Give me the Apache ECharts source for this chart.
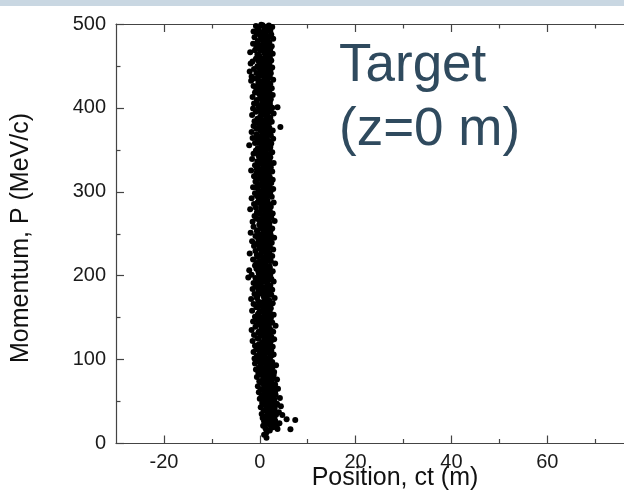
<!DOCTYPE html>
<html>
<head>
<meta charset="utf-8">
<script src="https://cdn.jsdelivr.net/npm/echarts@6/dist/echarts.min.js"></script>
<style>
html,body{margin:0;padding:0;background:#fff;}
#chart{width:624px;height:498px;}
</style>
</head>
<body>
<div id="chart"></div>
<script>
// ---- data ----
const xMajorTicks = [-20, 0, 20, 40, 60];
const xMinorTicks = [-10, 10, 30, 50, 70];
const yMajorTicks = [0, 100, 200, 300, 400, 500];
const yMinorTicks = [50, 150, 250, 350, 450];
const xTitle = 'Position, ct (m)';
const yTitle = 'Momentum, P (MeV/c)';
const annotation = ['Target', '(z=0 m)'];

// [position ct (m), momentum P (MeV/c)] - outer part of the particle cloud
const scatterPoints = [
[0.3,499.2],[1.9,498.1],[-0.8,497.5],[2.6,496.3],[1.0,495.4],[-0.2,494.0],[1.5,493.1],[2.2,491.7],[-1.3,491.0],[0.7,490.2],
[1.2,489.1],[-0.6,488.4],[2.4,487.6],[0.1,486.2],[1.7,485.5],[-1.1,484.3],[0.8,483.6],[2.8,482.4],[0.4,481.5],[1.4,480.3],
[-0.4,479.6],[2.0,478.4],[0.9,477.2],[-1.4,476.5],[1.6,475.3],[0.2,474.1],[2.5,473.4],[-0.7,472.2],[1.1,471.0],[2.2,470.4],
[0.5,469.3],[-1.0,468.7],[1.8,467.5],[-2.0,466.3],[0.9,465.6],[2.7,464.4],[-0.3,463.2],[1.3,462.5],[0.0,461.3],[2.1,460.2],
[1.6,459.4],[-0.8,458.5],[0.7,457.3],[2.4,456.6],[-1.5,455.4],[1.0,454.2],[-1.9,453.0],[2.0,452.5],[0.3,451.3],[1.5,450.1],
[-0.5,449.5],[2.6,448.3],[0.8,447.6],[-1.2,446.4],[1.9,445.2],[0.1,444.5],[-2.1,443.3],[1.2,442.4],[2.3,441.2],[-0.2,440.3],
[1.4,439.4],[0.4,438.2],[-1.7,437.5],[2.1,436.3],[-0.9,435.1],[1.0,434.4],[2.8,433.6],[-1.8,432.5],[0.6,431.3],[1.7,430.2],
[-0.3,429.5],[2.2,428.4],[0.9,427.3],[-1.3,426.1],[1.5,425.4],[0.0,424.2],[2.5,423.3],[-0.7,422.1],[1.2,421.4],[0.5,420.2],
[2.0,419.3],[-1.0,418.5],[1.3,417.4],[-0.1,416.2],[2.7,415.5],[0.7,414.3],[-1.5,413.1],[1.8,412.4],[0.3,411.2],[2.3,410.3],
[-0.6,409.4],[1.1,408.2],[0.5,406.3],[-1.2,405.1],[2.1,404.4],[1.6,403.3],[-0.3,402.2],[0.9,401.4],[2.6,400.3],[3.7,400.8],
[-1.4,399.2],[1.4,398.3],[0.2,397.5],[2.3,396.2],[-0.8,395.4],[1.0,394.1],[2.9,393.3],[0.6,392.2],[-1.6,391.4],[1.7,390.3],
[0.1,389.5],[2.2,388.4],[-0.5,387.2],[1.3,386.1],[0.8,385.3],[-1.1,384.2],[2.5,383.4],[0.4,382.1],[1.9,381.3],[-0.2,380.4],
[4.3,377.2],[1.5,379.3],[-1.3,378.5],[0.7,377.9],[2.0,376.2],[-0.4,375.4],[1.1,374.1],[2.7,373.2],[0.2,372.5],[-1.7,371.3],[1.6,370.4],
[0.9,369.2],[-0.7,368.4],[2.3,367.3],[0.0,366.1],[1.4,365.5],[-1.5,364.2],[2.8,363.3],[0.6,362.4],[-0.1,361.2],[1.9,360.3],
[1.1,359.4],[-1.0,358.2],[2.4,357.5],[0.4,356.3],[-2.2,355.4],[1.7,354.2],[0.8,353.3],[-0.4,352.1],[2.1,351.4],[1.3,350.2],
[-0.8,349.3],[0.3,348.4],[2.6,347.2],[1.0,346.5],[-1.3,345.3],[1.8,344.1],[0.5,343.4],[-0.2,342.3],[2.2,341.2],[1.4,340.4],
[-1.6,339.2],[0.7,338.4],[2.0,337.5],[-0.5,336.3],[1.2,335.2],[2.9,334.4],[0.1,333.3],[1.6,332.1],[-1.0,331.5],[0.9,330.3],
[2.3,329.4],[-0.3,328.2],[1.5,327.3],[0.4,326.5],[-1.8,325.4],[2.6,324.2],[1.0,323.3],[-0.7,322.1],[1.9,321.4],[0.2,320.3],
[1.3,319.2],[-1.2,318.4],[2.1,317.3],[0.6,316.1],[-0.1,315.5],[2.7,314.3],[1.7,313.2],[-0.9,312.4],[0.9,311.2],[2.4,310.4],
[-0.5,309.3],[1.1,308.2],[0.2,307.4],[2.0,306.5],[-1.4,305.3],[1.6,304.2],[2.8,303.4],[0.7,302.3],[-0.2,301.2],[1.4,300.4],
[2.2,299.5],[-1.0,298.3],[0.5,297.2],[1.8,296.4],[-0.6,295.3],[2.5,294.1],[0.9,293.5],[-1.7,292.2],[1.2,291.4],[0.1,290.3],
[1.6,289.2],[-0.3,288.4],[2.9,287.3],[0.8,286.2],[-1.2,285.4],[1.9,284.2],[0.3,283.5],[2.3,282.3],[-0.8,281.1],[1.1,280.4],
[-2.0,279.3],[0.6,278.5],[2.1,277.2],[1.3,276.4],[-0.4,275.3],[2.7,274.2],[0.0,273.4],[1.7,272.1],[-1.1,271.3],[0.9,270.2],
[2.4,269.4],[-0.7,268.2],[1.4,267.3],[0.2,266.5],[3.1,265.3],[-1.5,264.2],[1.0,263.4],[2.0,262.3],[-0.1,261.1],[0.7,260.4],
[1.8,259.2],[-1.3,258.4],[0.4,257.3],[2.6,256.2],[1.1,255.5],[-0.5,254.3],[2.2,253.1],[0.8,252.4],[-1.9,251.3],[1.5,250.2],
[0.1,249.4],[2.3,248.3],[-0.9,247.2],[1.2,246.5],[3.0,245.3],[0.6,244.2],[-0.3,243.4],[1.9,242.3],[-1.6,241.2],[0.9,240.4],
[2.5,239.3],[-0.6,238.2],[1.6,237.4],[0.3,236.5],[-1.2,235.3],[2.1,234.2],[0.9,233.1],[-0.1,232.4],[2.8,231.3],[1.3,230.2],
[-0.9,229.4],[0.7,228.3],[2.0,227.2],[-2.1,226.5],[1.4,225.3],[0.1,224.1],[2.6,223.4],[-0.5,222.3],[1.0,221.2],[1.8,220.4],
[-1.4,219.3],[0.5,218.2],[2.3,217.5],[1.2,216.3],[-0.3,215.2],[3.2,214.4],[0.8,213.3],[-1.0,212.1],[1.7,211.4],[0.2,210.3],
[2.1,209.4],[-0.7,208.2],[1.0,207.3],[-2.2,206.5],[2.7,205.3],[0.4,204.2],[1.5,203.4],[-0.2,202.3],[-1.7,201.2],[0.9,200.4],
[-2.4,198.0],[1.9,199.3],[0.3,198.5],[-0.9,197.2],[2.4,196.4],[1.2,195.3],[-0.4,194.2],[2.9,193.1],[0.6,192.4],[-1.3,191.3],[1.6,190.2],
[0.0,189.4],[2.2,188.3],[-0.8,187.2],[1.3,186.5],[0.7,185.3],[-1.5,184.2],[2.6,183.4],[1.0,182.3],[-0.2,181.1],[1.9,180.4],
[0.4,179.3],[-1.1,178.2],[2.4,177.4],[1.5,176.5],[-0.5,175.3],[0.9,174.2],[3.1,173.4],[-1.8,172.3],[1.2,171.2],[2.0,170.4],
[-0.3,169.2],[0.6,168.4],[2.7,167.3],[-1.3,166.2],[1.8,165.5],[0.2,164.3],[1.1,163.2],[-0.7,162.4],[2.3,161.3],[0.8,160.2],
[1.4,159.4],[-1.6,158.3],[0.0,157.2],[2.1,156.5],[0.9,155.3],[-0.4,154.1],[2.9,153.4],[1.6,152.3],[-1.0,151.2],[0.5,150.4],
[2.3,149.3],[-0.6,148.2],[1.2,147.4],[0.3,146.5],[-1.4,145.3],[2.6,144.2],[1.7,143.4],[-0.1,142.3],[0.8,141.1],[3.3,140.4],
[-0.9,139.2],[1.0,138.4],[2.0,137.3],[0.4,136.2],[-1.7,135.4],[1.5,134.3],[2.8,133.2],[-0.3,132.4],[0.7,131.3],[1.9,130.2],
[-1.2,129.4],[0.2,128.3],[2.4,127.2],[1.3,126.5],[-0.5,125.3],[3.0,124.2],[0.9,123.4],[-1.5,122.3],[1.7,121.2],[0.5,120.4],
[2.1,119.3],[-0.2,118.2],[1.1,117.4],[-1.0,116.5],[2.7,115.3],[0.6,114.2],[1.8,113.4],[-0.7,112.3],[0.3,111.1],[2.4,110.4],
[-1.3,109.2],[1.4,108.4],[0.0,107.3],[2.9,106.2],[0.8,105.5],[-0.6,104.3],[2.2,103.2],[1.2,102.4],[-1.1,101.3],[0.5,100.2],
[1.9,99.4],[-0.4,98.3],[2.6,97.2],[0.9,96.5],[-1.0,95.3],[1.5,94.2],[3.4,93.4],[0.2,92.3],[2.1,91.2],[-0.2,90.4],
[1.1,89.3],[-0.8,88.2],[2.4,87.4],[0.6,86.5],[3.0,85.3],[-0.3,84.2],[1.7,83.4],[0.1,82.3],[2.7,81.1],[1.3,80.4],
[-0.6,79.2],[2.0,78.4],[0.7,77.3],[3.6,76.2],[1.4,75.5],[-0.1,74.3],[2.5,73.2],[0.4,72.4],[1.8,71.3],[3.2,70.2],
[0.9,69.4],[-0.4,68.3],[2.2,67.2],[1.2,66.5],[3.8,65.3],[0.2,64.2],[2.8,63.4],[1.6,62.3],[-0.2,61.1],[2.0,60.4],
[1.0,59.3],[3.3,58.2],[0.4,57.4],[2.5,56.5],[1.5,55.3],[4.2,54.2],[0.0,53.4],[2.0,52.3],[3.0,51.2],[0.8,50.4],
[1.9,49.2],[0.5,48.4],[3.6,47.3],[2.6,46.2],[1.2,45.5],[4.4,44.3],[0.2,43.2],[2.2,42.4],[3.1,41.3],[1.5,40.2],
[0.8,39.4],[2.9,38.3],[4.0,37.2],[1.7,36.5],[0.4,35.3],[3.4,34.2],[4.7,34.0],[2.3,33.4],[1.1,32.3],[3.0,31.2],[0.6,30.4],
[2.0,29.3],[5.6,29.0],[1.3,28.2],[7.4,28.0],[3.2,27.4],[0.9,26.5],[2.5,25.3],[4.1,24.2],[1.6,23.4],[3.6,22.3],[0.7,21.2],
[2.8,19.4],[6.4,17.0],[1.2,18.0],[3.7,17.3],[2.1,15.5],[1.4,13.0],[0.9,10.5],[1.4,7.0]
];

// [position ct (m), momentum P (MeV/c)] - dense core of the particle cloud
const corePoints = [
[0.6,498.6],[1.6,496.8],[-0.4,495.0],[2.1,493.2],[0.9,491.4],
[-0.2,488.7],[1.1,486.9],[2.0,485.1],[0.3,483.3],[1.5,481.5],
[1.3,478.8],[-0.6,477.0],[0.5,475.2],[1.9,473.4],[0.8,471.6],
[0.1,468.7],[2.2,466.9],[1.2,465.1],[-0.5,463.3],[1.7,461.5],
[0.5,458.8],[1.9,457.0],[-0.2,455.2],[1.3,453.4],[0.6,451.6],
[1.6,448.7],[0.0,446.9],[2.2,445.1],[0.6,443.3],[-0.7,441.5],
[0.9,438.8],[2.0,437.0],[-0.4,435.2],[1.4,433.4],[0.2,431.6],
[1.7,428.7],[0.3,426.9],[-0.6,425.1],[2.0,423.3],[1.0,421.5],
[-0.3,418.8],[0.9,417.0],[2.2,415.2],[1.5,413.4],[0.1,411.6],
[1.4,408.7],[2.1,406.9],[-0.7,405.7],[0.4,403.3],[1.9,401.5],
[0.6,398.8],[-0.3,396.9],[1.8,395.2],[0.3,393.4],[1.2,391.6],
[1.7,388.7],[0.2,386.9],[2.1,385.1],[-0.6,383.3],[1.0,381.5],
[0.4,378.8],[1.2,377.0],[-0.7,375.2],[1.8,373.4],[0.6,371.6],
[2.0,368.7],[0.5,366.9],[1.0,365.1],[-0.5,363.3],[1.6,361.5],
[-0.2,358.8],[1.5,357.0],[0.9,355.2],[2.2,353.4],[0.1,351.6],
[1.2,348.7],[-0.5,346.9],[2.0,345.1],[0.7,343.3],[1.6,341.5],
[0.3,338.8],[1.5,337.0],[-0.2,335.2],[2.1,333.4],[0.8,331.6],
[1.0,328.7],[-0.6,326.9],[2.0,325.1],[0.1,323.3],[1.4,321.5],
[0.3,318.8],[1.9,317.0],[-0.5,315.2],[1.1,313.4],[0.5,311.6],
[1.7,308.7],[0.6,306.9],[-0.7,305.1],[2.2,303.3],[1.0,301.5],
[0.2,298.8],[1.3,297.0],[2.1,295.2],[-0.3,293.4],[0.7,291.6],
[1.1,288.7],[-0.5,286.9],[2.0,285.1],[0.5,283.3],[1.5,281.5],
[0.3,278.8],[1.8,277.0],[-0.6,275.2],[1.0,273.4],[2.2,271.6],
[0.6,268.7],[-0.2,266.9],[1.9,265.1],[0.4,263.3],[1.4,261.5],
[2.0,258.8],[0.2,257.0],[1.2,255.2],[-0.6,253.4],[1.6,251.6],
[0.8,248.7],[-0.4,246.9],[2.1,245.1],[0.3,243.3],[1.3,241.5],
[1.1,238.8],[-0.1,237.0],[2.0,235.2],[0.6,233.4],[1.6,231.6],
[0.4,228.7],[1.5,226.9],[-0.6,225.1],[2.2,223.3],[0.9,221.5],
[1.8,218.8],[0.1,217.0],[-0.7,215.2],[1.1,213.4],[2.0,211.6],
[0.5,208.7],[1.6,206.9],[-0.3,205.1],[1.0,203.3],[2.2,201.5],
[1.3,198.8],[0.0,197.0],[2.0,195.2],[0.7,193.4],[-0.5,191.6],
[1.6,188.7],[0.4,186.9],[2.2,185.1],[-0.3,183.3],[1.2,181.5],
[0.2,178.8],[1.8,177.0],[0.9,175.2],[-0.6,173.4],[1.5,171.6],
[1.2,168.7],[0.3,166.9],[2.1,165.1],[-0.4,163.3],[1.6,161.5],
[0.6,158.8],[1.9,157.0],[-0.2,155.2],[1.3,153.4],[2.3,151.6],
[0.1,148.7],[1.6,146.9],[0.9,145.1],[2.1,143.3],[-0.5,141.5],
[1.4,138.8],[0.4,137.0],[2.3,135.2],[-0.1,133.4],[1.1,131.6],
[0.7,128.7],[1.9,126.9],[-0.3,125.1],[1.5,123.3],[2.3,121.5],
[0.4,118.8],[1.6,117.0],[2.3,115.2],[0.0,113.4],[1.2,111.6],
[1.8,108.7],[0.6,106.9],[2.5,105.1],[-0.2,103.3],[1.5,101.5],
[0.8,98.8],[2.2,97.0],[0.2,95.2],[1.3,93.4],[2.7,91.6],
[1.6,88.7],[0.3,86.9],[2.3,85.1],[1.0,83.3],[2.9,81.5],
[0.8,78.8],[2.6,77.0],[1.2,75.2],[0.2,73.4],[2.1,71.6],
[1.5,68.7],[2.8,66.9],[0.6,65.1],[1.9,63.3],[3.2,61.5],
[1.2,58.8],[2.4,57.0],[0.7,55.2],[3.0,53.4],[1.7,51.6],
[2.3,48.7],[1.0,46.9],[3.2,45.1],[1.8,43.3],[2.7,41.5],
[1.4,38.8],[2.4,37.0],[3.2,35.2],[1.9,33.4],[2.7,31.6],
[1.8,28.7],[2.6,26.9],[1.2,25.1],[3.0,23.3],[2.2,21.5]
];

// ---- chart ----
const FONT = '"Liberation Sans", Arial, sans-serif';
const axisColor = '#444';
const labelColor = '#1a1a1a';
const chart = echarts.init(document.getElementById('chart'), null, {renderer: 'canvas'});

function xAxisDef(position, ticks, len, showLine, showLabel) {
  return {
    type: 'value', position: position, min: -30, max: 76,
    axisLine: {show: showLine, onZero: false, lineStyle: {color: axisColor, width: 1.2}},
    axisTick: {show: true, inside: true, length: len, customValues: ticks, lineStyle: {color: axisColor, width: 1.2}},
    axisLabel: {show: showLabel, customValues: ticks, margin: 9, color: labelColor, fontSize: 20, fontFamily: FONT},
    splitLine: {show: false}
  };
}

const option = {
  backgroundColor: '#ffffff',
  animation: false,
  grid: {left: 116, top: 24, width: 508, height: 419.5, containLabel: false},
  xAxis: [
    xAxisDef('bottom', xMajorTicks, 8, true, true),
    xAxisDef('bottom', xMinorTicks, 4.5, false, false),
    xAxisDef('top', xMajorTicks, 8, true, false),
    xAxisDef('top', xMinorTicks, 4.5, false, false)
  ],
  yAxis: [{
    type: 'value', min: 0, max: 500, interval: 100,
    axisLine: {show: true, onZero: false, lineStyle: {color: axisColor, width: 1.2}},
    axisTick: {show: true, inside: true, length: 8, lineStyle: {color: axisColor, width: 1.2}},
    minorTick: {show: true, splitNumber: 2, length: 4.5, lineStyle: {color: axisColor, width: 1.2}},
    axisLabel: {margin: 10, color: labelColor, fontSize: 20, fontFamily: FONT},
    splitLine: {show: false}
  }],
  series: [{
    type: 'scatter',
    xAxisIndex: 0, yAxisIndex: 0,
    data: scatterPoints.concat(corePoints),
    symbol: 'circle',
    symbolSize: 6,
    itemStyle: {color: '#000', opacity: 1},
    clip: true
  }],
  graphic: [
    {type: 'rect', left: 0, top: 0, shape: {width: 624, height: 6}, style: {fill: '#c9d7e2'}, silent: true},
    {type: 'text', x: 395, y: 478, style: {text: xTitle, font: '25px ' + FONT, fill: '#111', align: 'center', verticalAlign: 'middle'}},
    {type: 'text', x: 21, y: 238, rotation: Math.PI / 2, style: {text: yTitle, font: '25px ' + FONT, fill: '#111', align: 'center', verticalAlign: 'middle'}},
    {type: 'text', x: 339, y: 66, style: {text: annotation[0], font: '53px ' + FONT, fill: '#2f4a5e', align: 'left', verticalAlign: 'middle'}},
    {type: 'text', x: 339, y: 130, style: {text: annotation[1], font: '53px ' + FONT, fill: '#2f4a5e', align: 'left', verticalAlign: 'middle'}}
  ]
};
chart.setOption(option);
</script>
</body>
</html>
